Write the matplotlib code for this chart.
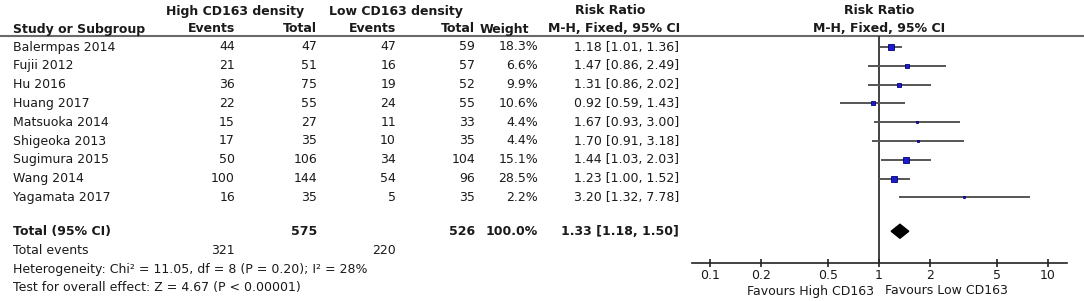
import matplotlib
matplotlib.use("Agg")
import matplotlib.pyplot as plt
import numpy as np

# ---------------- data ----------------
studies = ["Balermpas 2014", "Fujii 2012", "Hu 2016", "Huang 2017", "Matsuoka 2014",
           "Shigeoka 2013", "Sugimura 2015", "Wang 2014", "Yagamata 2017"]
high_events = [44, 21, 36, 22, 15, 17, 50, 100, 16]
high_total = [47, 51, 75, 55, 27, 35, 106, 144, 35]
low_events = [47, 16, 19, 24, 11, 10, 34, 54, 5]
low_total = [59, 57, 52, 55, 33, 35, 104, 96, 35]
weights = [18.3, 6.6, 9.9, 10.6, 4.4, 4.4, 15.1, 28.5, 2.2]
rr = [1.18, 1.47, 1.31, 0.92, 1.67, 1.70, 1.44, 1.23, 3.20]
ci_low = [1.01, 0.86, 0.86, 0.59, 0.93, 0.91, 1.03, 1.00, 1.32]
ci_high = [1.36, 2.49, 2.02, 1.43, 3.00, 3.18, 2.03, 1.52, 7.78]
total_rr, total_low, total_high = 1.33, 1.18, 1.50
total_n_high, total_n_low = 575, 526
total_events_high, total_events_low = 321, 220
total_weight = "100.0%"
heterogeneity = "Heterogeneity: Chi² = 11.05, df = 8 (P = 0.20); I² = 28%"
overall = "Test for overall effect: Z = 4.67 (P < 0.00001)"
tick_values = [0.1, 0.2, 0.5, 1, 2, 5, 10]
tick_labels = ["0.1", "0.2", "0.5", "1", "2", "5", "10"]
favours_left = "Favours High CD163"
favours_right = "Favours Low CD163"

# ---------------- layout (pixels) ----------------
W, H = 1084, 301
fig = plt.figure(figsize=(W / 100, H / 100), dpi=100)
plt.rcParams["font.family"] = ["DejaVu Sans"]
FS = 9.0
TXT = "#1a1a1a"

tax = fig.add_axes([0, 0, 1, 1])
tax.set_xlim(0, W)
tax.set_ylim(H, 0)
tax.axis("off")

y_h1, y_h2, y_rule = 11, 29, 35.5
row0, dy = 47, 18.8
row_y = [row0 + i * dy for i in range(len(studies))]
y_total = row_y[-1] + 1.8 * dy
y_tev = y_total + 19
y_het = y_tev + 18.8
y_test = y_het + 18.8

x_study = 13
x_he, x_ht, x_le, x_lt = 235, 317, 396, 475
x_wh, x_w = 529, 538
x_rr = 679
x_one = 879
ax_left, ax_right = 692, 1067
y_axis = 263


def t(x, y, s, ha="left", bold=False, **kw):
    tax.text(x, y, s, ha=ha, va="center", fontsize=FS, color=TXT,
             fontweight="bold" if bold else "normal", **kw)


# headers
t((165 + 305) / 2, y_h1, "High CD163 density", ha="center", bold=True)
t((329 + 463) / 2, y_h1, "Low CD163 density", ha="center", bold=True)
t(610, y_h1, "Risk Ratio", ha="center", bold=True)
t(x_one, y_h1, "Risk Ratio", ha="center", bold=True)
t(x_study, y_h2, "Study or Subgroup", bold=True)
t(x_he, y_h2, "Events", ha="right", bold=True)
t(x_ht, y_h2, "Total", ha="right", bold=True)
t(x_le, y_h2, "Events", ha="right", bold=True)
t(x_lt, y_h2, "Total", ha="right", bold=True)
t(x_wh, y_h2, "Weight", ha="right", bold=True)
t(614, y_h2, "M-H, Fixed, 95% CI", ha="center", bold=True)
t(x_one, y_h2, "M-H, Fixed, 95% CI", ha="center", bold=True)
tax.plot([0, W], [y_rule, y_rule], color="#6a6a6a", lw=1.5, solid_capstyle="butt")

# study rows
for i, y in enumerate(row_y):
    t(x_study, y, studies[i])
    t(x_he, y, str(high_events[i]), ha="right")
    t(x_ht, y, str(high_total[i]), ha="right")
    t(x_le, y, str(low_events[i]), ha="right")
    t(x_lt, y, str(low_total[i]), ha="right")
    t(x_w, y, f"{weights[i]:.1f}%", ha="right")
    t(x_rr, y, f"{rr[i]:.2f} [{ci_low[i]:.2f}, {ci_high[i]:.2f}]", ha="right")

# totals
t(x_study, y_total, "Total (95% CI)", bold=True)
t(x_ht, y_total, str(total_n_high), ha="right", bold=True)
t(x_lt, y_total, str(total_n_low), ha="right", bold=True)
t(x_w, y_total, total_weight, ha="right", bold=True)
t(x_rr, y_total, f"{total_rr:.2f} [{total_low:.2f}, {total_high:.2f}]", ha="right", bold=True)
t(x_study, y_tev, "Total events")
t(x_he, y_tev, str(total_events_high), ha="right")
t(x_le, y_tev, str(total_events_low), ha="right")
t(x_study, y_het, heterogeneity)
t(x_study, y_test, overall)
t(x_one - 5, 291, favours_left, ha="right")
t(x_one + 6, 291, favours_right, ha="left")

# ---------------- forest axes ----------------
decade = 169.0
xmin = 10 ** ((ax_left - x_one) / decade)
xmax = 10 ** ((ax_right - x_one) / decade)
fax = fig.add_axes([ax_left / W, (H - y_axis) / H, (ax_right - ax_left) / W, (y_axis - y_rule) / H])
fax.set_xscale("log")
fax.set_xlim(xmin, xmax)
fax.set_ylim(y_axis, y_rule)
fax.patch.set_alpha(0)
for s in ["top", "right", "left"]:
    fax.spines[s].set_visible(False)
fax.spines["bottom"].set_color("#222222")
fax.spines["bottom"].set_linewidth(1.2)
fax.set_yticks([])
fax.set_xticks(tick_values)
fax.set_xticklabels(tick_labels)
fax.xaxis.set_minor_locator(matplotlib.ticker.NullLocator())
fax.tick_params(axis="x", direction="inout", length=6, width=1.2, color="#222222",
                labelsize=FS, labelcolor=TXT, pad=1.5)
fax.axvline(1, color="#333333", lw=1.3, zorder=1)

for i, y in enumerate(row_y):
    fax.plot([ci_low[i], ci_high[i]], [y, y], color="#555555", lw=1.4,
             solid_capstyle="butt", zorder=2)
    side_px = 1.3 * np.sqrt(weights[i])
    fax.plot([rr[i]], [y], marker="s", markersize=side_px * 0.72,
             markerfacecolor="#1c1ccc", markeredgecolor="#00007a", markeredgewidth=0.6, zorder=3)

half_h = 7
fax.fill([total_low, total_rr, total_high, total_rr],
         [y_total, y_total - half_h, y_total, y_total + half_h],
         color="black", zorder=3, clip_on=False)

fig.savefig("out.png", dpi=100)
